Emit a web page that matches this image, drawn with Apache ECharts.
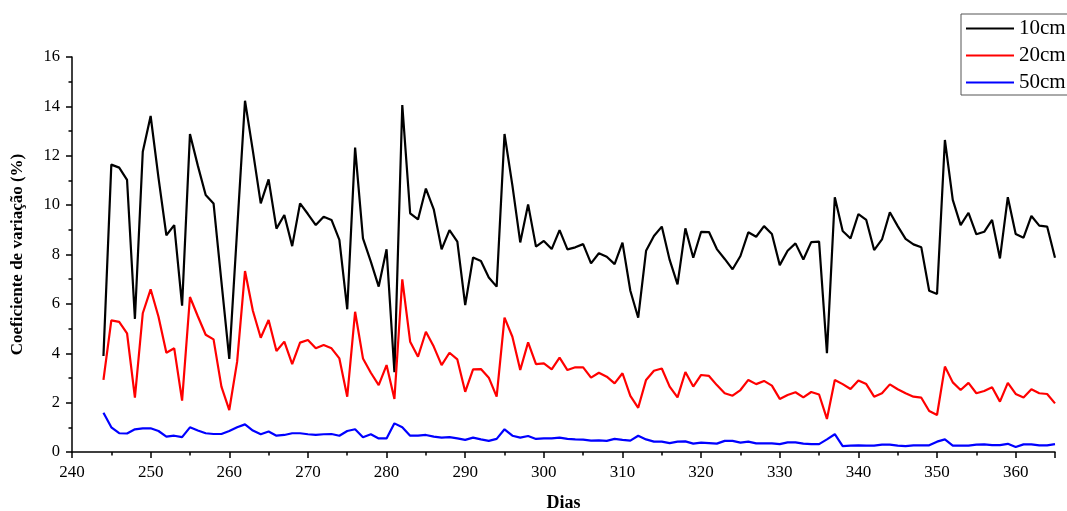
<!DOCTYPE html>
<html>
<head>
<meta charset="utf-8">
<script src="https://cdn.jsdelivr.net/npm/echarts@6/dist/echarts.min.js"></script>
<style>
html,body{margin:0;padding:0;background:#fff;}
#chart{width:1067px;height:511px;}
</style>
</head>
<body>
<div id="chart"></div>
<script>
const days = [244,245,246,247,248,249,250,251,252,253,254,255,256,257,258,259,260,261,262,263,264,265,266,267,268,269,270,271,272,273,274,275,276,277,278,279,280,281,282,283,284,285,286,287,288,289,290,291,292,293,294,295,296,297,298,299,300,301,302,303,304,305,306,307,308,309,310,311,312,313,314,315,316,317,318,319,320,321,322,323,324,325,326,327,328,329,330,331,332,333,334,335,336,337,338,339,340,341,342,343,344,345,346,347,348,349,350,351,352,353,354,355,356,357,358,359,360,361,362,363,364,365];

const cv10 = [3.89,11.64,11.52,11.02,5.39,12.16,13.61,11.1,8.78,9.19,5.93,12.88,11.6,10.41,10.07,6.9,3.77,9.0,14.23,12.2,10.07,11.04,9.05,9.6,8.34,10.07,9.64,9.19,9.53,9.4,8.59,5.78,12.33,8.65,7.71,6.7,8.21,3.23,14.05,9.67,9.42,10.67,9.83,8.21,8.99,8.52,5.95,7.88,7.74,7.07,6.7,12.88,10.8,8.49,10.03,8.32,8.55,8.22,8.99,8.21,8.29,8.42,7.64,8.05,7.91,7.61,8.48,6.53,5.44,8.15,8.75,9.13,7.78,6.79,9.06,7.87,8.92,8.91,8.22,7.82,7.4,7.94,8.9,8.72,9.15,8.83,7.57,8.15,8.45,7.8,8.5,8.52,4.0,10.32,8.95,8.65,9.64,9.4,8.18,8.61,9.71,9.15,8.63,8.41,8.29,6.53,6.4,12.64,10.21,9.19,9.69,8.82,8.92,9.4,7.84,10.32,8.83,8.68,9.56,9.17,9.13,7.87];

const cv20 = [2.92,5.33,5.27,4.81,2.2,5.62,6.59,5.48,4.02,4.2,2.08,6.28,5.5,4.75,4.56,2.65,1.70,3.66,7.33,5.72,4.63,5.35,4.09,4.47,3.56,4.43,4.54,4.2,4.33,4.2,3.79,2.24,5.68,3.79,3.21,2.71,3.52,2.15,6.99,4.47,3.86,4.87,4.27,3.52,4.02,3.75,2.44,3.35,3.36,3.01,2.24,5.44,4.67,3.32,4.44,3.56,3.59,3.35,3.82,3.32,3.43,3.43,3.01,3.21,3.05,2.78,3.19,2.27,1.79,2.92,3.29,3.38,2.65,2.21,3.24,2.65,3.12,3.08,2.71,2.38,2.28,2.51,2.92,2.75,2.88,2.69,2.15,2.31,2.42,2.21,2.43,2.33,1.34,2.92,2.75,2.55,2.9,2.75,2.24,2.38,2.74,2.54,2.38,2.24,2.2,1.66,1.5,3.46,2.82,2.51,2.8,2.38,2.47,2.62,2.04,2.8,2.35,2.21,2.54,2.38,2.35,1.97];

const cv50 = [1.59,1.0,0.76,0.75,0.92,0.96,0.96,0.85,0.62,0.66,0.6,1.0,0.87,0.76,0.73,0.73,0.85,1.0,1.12,0.87,0.72,0.83,0.66,0.69,0.76,0.76,0.72,0.69,0.72,0.73,0.66,0.85,0.92,0.6,0.72,0.55,0.55,1.16,1.0,0.66,0.66,0.69,0.62,0.58,0.6,0.55,0.49,0.58,0.51,0.45,0.53,0.92,0.66,0.58,0.65,0.53,0.55,0.55,0.58,0.53,0.51,0.5,0.46,0.47,0.45,0.53,0.49,0.46,0.66,0.51,0.42,0.42,0.36,0.42,0.43,0.34,0.38,0.36,0.34,0.45,0.45,0.38,0.42,0.35,0.35,0.35,0.32,0.39,0.39,0.34,0.32,0.32,0.51,0.72,0.24,0.26,0.27,0.26,0.26,0.3,0.3,0.26,0.24,0.27,0.27,0.27,0.42,0.51,0.26,0.26,0.26,0.3,0.31,0.28,0.28,0.33,0.2,0.31,0.31,0.27,0.27,0.32];

const seriesNames = ['10cm','20cm','50cm'];
const seriesColors = ['#000000','#ff0000','#0000ff'];
const xTitle = 'Dias';
const yTitle = 'Coeficiente de variação (%)';

const font = 'Liberation Serif, Times New Roman, serif';
const pair = arr => arr.map((v,i)=>[days[i], v]);
const allData = [cv10, cv20, cv50];

const chart = echarts.init(document.getElementById('chart'), null, {renderer:'canvas'});
chart.setOption({
  animation:false,
  backgroundColor:'#ffffff',
  grid:{left:72, right:12, top:57, bottom:59, containLabel:false, outerBoundsMode:'none'},
  legend:{
    orient:'vertical', left:961, top:14,
    data: seriesNames,
    borderColor:'#555', borderWidth:1, borderRadius:0,
    padding:[4,40,2,5],
    itemWidth:48, itemHeight:14, itemGap:6,
    textStyle:{fontFamily:font, fontSize:21, color:'#000'},
    icon:'path://M0,6 L48,6 L48,8 L0,8 Z'
  },
  xAxis:{
    type:'value', min:240, max:365, interval:10,
    name:xTitle, nameLocation:'middle', nameGap:42,
    nameTextStyle:{fontFamily:font, fontSize:18, fontWeight:'bold', color:'#000'},
    axisLine:{show:true, onZero:false, lineStyle:{color:'#000', width:1.5}},
    axisTick:{show:true, inside:false, length:6, lineStyle:{color:'#000', width:1.5}},
    minorTick:{show:true, splitNumber:2, length:3.5, lineStyle:{color:'#000', width:1.5}},
    axisLabel:{fontFamily:font, fontSize:17, color:'#000', margin:12, showMaxLabel:false},
    splitLine:{show:false}
  },
  yAxis:{
    type:'value', min:0, max:16, interval:2,
    name:yTitle, nameLocation:'middle', nameGap:46, nameRotate:90,
    nameTextStyle:{fontFamily:font, fontSize:17, fontWeight:'bold', color:'#000'},
    axisLine:{show:true, lineStyle:{color:'#000', width:1.5}},
    axisTick:{show:true, inside:false, length:6, lineStyle:{color:'#000', width:1.5}},
    minorTick:{show:true, splitNumber:2, length:3.5, lineStyle:{color:'#000', width:1.5}},
    axisLabel:{fontFamily:font, fontSize:16.5, color:'#000', margin:12},
    splitLine:{show:false}
  },
  series: allData.map((arr,k)=>({
    name:seriesNames[k], type:'line', data:pair(arr),
    symbol:'none', showSymbol:false,
    lineStyle:{color:seriesColors[k], width:2.2},
    itemStyle:{color:seriesColors[k]}
  }))
});
</script>
</body>
</html>
